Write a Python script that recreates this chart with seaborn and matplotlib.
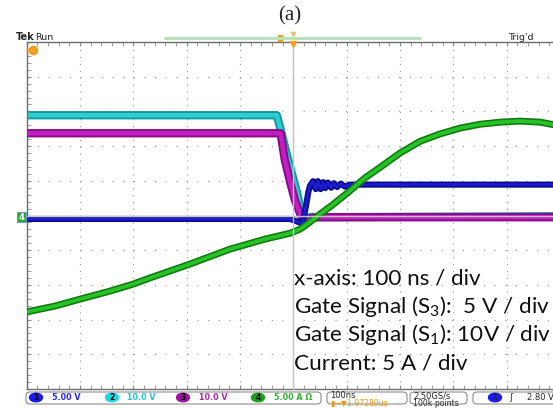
import numpy as np
import pandas as pd
import matplotlib
matplotlib.use("Agg")
import matplotlib.pyplot as plt
from matplotlib.patches import FancyBboxPatch, Ellipse, Rectangle
from matplotlib.ticker import MultipleLocator
import seaborn as sns

# time in ns (0 = trigger at screen centre), level in screen divisions
ch2_t = [-500, -31, -21, -12, -2, 7, 14, 20, 28, 500]
ch2_y = [2.89, 2.89, 2.31, 1.74, 1.17, 0.65, 0.16, -0.10, -0.05, -0.02]

ch3_t = [-500, -24, -16, -6, 3, 13, 20, 28, 41, 500]
ch3_y = [2.37, 2.37, 1.60, 0.96, 0.44, 0.04, -0.19, -0.10, -0.05, -0.05]

ch1_t = [-500, -6, 5, 16, 18, 24, 28, 31, 37, 42, 46, 51, 56, 60, 65, 71, 76,
         82, 89, 97, 106, 500]
ch1_y = [-0.10, -0.10, -0.16, -0.23, -0.16, 0.30, 0.67, 0.85, 0.99, 0.76, 0.99,
         0.76, 0.96, 0.79, 0.95, 0.80, 0.93, 0.82, 0.92, 0.83, 0.89, 0.89]

ch4_t = [-500, -447, -400, -344, -301, -269, -194, -119, -53, -6, 13, 31, 50,
         73, 103, 134, 163, 200, 238, 275, 313, 350, 388, 425, 463, 500]
ch4_y = [-2.78, -2.61, -2.41, -2.18, -1.98, -1.80, -1.40, -0.97, -0.68, -0.51,
         -0.39, -0.19, 0.04, 0.30, 0.67, 1.08, 1.39, 1.80, 2.14, 2.35, 2.52,
         2.63, 2.69, 2.72, 2.69, 2.58]

ch_labels = ["1", "2", "3", "4"]
ch_scales = ["5.00 V", "10.0 V", "10.0 V", "5.00 A \u03a9"]
notes = ["x-axis: 100 ns / div",
         "Gate Signal (S$_3$):  5 V / div",
         "Gate Signal (S$_1$): 10V / div",
         "Current: 5 A / div"]

sns.set_style("white")
plt.rcParams["font.family"] = ["DejaVu Sans"]
plt.rcParams["mathtext.fontset"] = "custom"
plt.rcParams["mathtext.rm"] = "Lato"
plt.rcParams["mathtext.it"] = "Lato:italic"
plt.rcParams["mathtext.bf"] = "Lato:bold"

W, H = 553, 408


def fx(x):
    return x / W


def fy(y):
    return 1 - y / H


fig = plt.figure(figsize=(5.53, 4.08), dpi=100)
pos = [fx(26.7), fy(389), (560 - 26.7) / W, (389 - 42) / H]
ax = fig.add_axes(pos)
ax.set_xlim(-500, 500)
ax.set_ylim(-5, 5)

# graticule
ax.xaxis.set_major_locator(MultipleLocator(100))
ax.xaxis.set_minor_locator(MultipleLocator(20))
ax.yaxis.set_major_locator(MultipleLocator(1))
ax.yaxis.set_minor_locator(MultipleLocator(0.2))
ax.xaxis.grid(True, which="major", color="#9c9c9c", linewidth=0.86,
              linestyle=(0, (1, 4.78)))
ax.yaxis.grid(True, which="major", color="#9c9c9c", linewidth=0.86,
              linestyle=(0, (1, 7.89)))
ax.tick_params(which="both", direction="in", length=3, color="#8a8a8a",
               top=True, bottom=True, left=True, right=False,
               labelbottom=False, labelleft=False)
for s in ["top", "left", "bottom"]:
    ax.spines[s].set_color("#6e6e6e")
    ax.spines[s].set_linewidth(1.0)
ax.spines["right"].set_visible(False)

# centre crosshair with ticks
ax2 = fig.add_axes(pos, sharex=ax, sharey=ax)
ax2.patch.set_visible(False)
ax2.spines["left"].set_position(("data", 0))
ax2.spines["bottom"].set_position(("data", 0))
ax2.spines["top"].set_visible(False)
ax2.spines["right"].set_visible(False)
for s in ["left", "bottom"]:
    ax2.spines[s].set_color("#c4c4c4")
    ax2.spines[s].set_linewidth(1.0)
ax2.tick_params(which="both", direction="inout", length=4, color="#b0b0b0",
                labelbottom=False, labelleft=False)

# traces
traces = [
    (ch2_t, ch2_y, "#139a9e", "#2ccfd4", 6.0, 3.2, 2),
    (ch3_t, ch3_y, "#8a0a8a", "#c020c0", 6.0, 3.2, 3),
    (ch1_t, ch1_y, "#0a0a8c", "#1c1cd0", 4.4, 2.0, 4),
    (ch4_t, ch4_y, "#0f7a0f", "#26c226", 5.0, 2.7, 5),
]
for t, y, dark, light, w1, w2, z in traces:
    d = pd.DataFrame({"t": t, "y": y})
    sns.lineplot(data=d, x="t", y="y", ax=ax, color=dark, linewidth=w1,
                 estimator=None, sort=False, zorder=z,
                 solid_joinstyle="round")
    sns.lineplot(data=d, x="t", y="y", ax=ax, color=light, linewidth=w2,
                 estimator=None, sort=False, zorder=z + 0.5,
                 solid_joinstyle="round")
ax.set_xlabel("")
ax.set_ylabel("")

# annotation block
base = [-1.995, -2.81, -3.63, -4.45]
for line, yb in zip(notes, base):
    ax.text(1, yb, line, fontsize=16.2, family="Lato", color="#111111",
            va="baseline", ha="left", zorder=10, clip_on=False)

# title and header
fig.text(fx(290), fy(16), "(a)", family="Liberation Serif", fontsize=15,
         ha="center", va="center")
fig.text(fx(16), fy(37.5), "Tek", fontsize=7, weight="bold", va="center")
fig.text(fx(35), fy(37.5), "Run", fontsize=6.8, color="#222222", va="center")
fig.text(fx(508), fy(37.5), "Trig'd", fontsize=6.8, color="#222222",
         va="center")
fig.add_artist(plt.Line2D([fx(165), fx(420)], [fy(38), fy(38)],
                          color="#b9e2b9", linewidth=2.2))
fig.add_artist(Rectangle((fx(278), fy(41)), 4 / W, 6 / H, color="#f0a020"))
fig.add_artist(plt.Line2D([fx(293.3)], [fy(44)], marker="v", markersize=5,
                          color="#f0a020"))
fig.add_artist(plt.Line2D([fx(293.3)], [fy(34)], marker="v", markersize=3,
                          color="#f0c070"))
fig.add_artist(plt.Line2D([fx(30)], [fy(50)], marker="<", markersize=6,
                          color="#f0a020"))
fig.add_artist(plt.Line2D([fx(33)], [fy(50)], marker="o", markersize=6,
                          color="#f0a020"))
fig.add_artist(Rectangle((fx(17), fy(222)), 9 / W, 10 / H, facecolor="#22b022",
                         edgecolor="#7090e0", linewidth=0.8))
fig.text(fx(21.5), fy(217), "4", fontsize=6, color="white", ha="center",
         va="center", weight="bold")

# status bar
boxes = [(26, 321), (327, 407), (410, 467), (473, 560)]
for x0, x1 in boxes:
    fig.add_artist(FancyBboxPatch((fx(x0), fy(404)), (x1 - x0) / W, 12 / H,
                                  boxstyle="round,pad=0,rounding_size=0.008",
                                  facecolor="white", edgecolor="#8c8c8c",
                                  linewidth=0.8))
ch_fill = ["#1a1aee", "#1ed6e0", "#a012a0", "#1aa01a"]
ch_text = ["#2a2ae0", "#20c6d0", "#a828a8", "#30b030"]
ell_x = [36, 112, 183, 258]
txt_x = [52, 127, 199, 274]
for lab, sc, fc, tc, ex, tx in zip(ch_labels, ch_scales, ch_fill, ch_text,
                                   ell_x, txt_x):
    fig.add_artist(Ellipse((fx(ex), fy(397.5)), 13 / W, 8.5 / H, color=fc))
    fig.text(fx(ex), fy(397.5), lab, fontsize=5.5, ha="center", va="center",
             color="black", weight="bold")
    fig.text(fx(tx), fy(397.5), sc, fontsize=5.8, color=tc, va="center",
             weight="bold")
fig.text(fx(330), fy(396), "100ns", fontsize=6, va="center")
fig.text(fx(330), fy(403.5), "\u25ae\u2192\u25bc1.97280us", fontsize=5.6,
         va="center", color="#f09a10")
fig.text(fx(413), fy(396), "2.50GS/s", fontsize=6, va="center")
fig.text(fx(413), fy(403.5), "100k points", fontsize=5.6, va="center")
fig.add_artist(Ellipse((fx(495), fy(397.5)), 13 / W, 8.5 / H, color="#1a1aee"))
fig.text(fx(495), fy(397.5), "1", fontsize=5.5, ha="center", va="center",
         weight="bold")
fig.text(fx(509), fy(397.5), "\u0283", fontsize=6.5, va="center")
fig.text(fx(527), fy(397.5), "2.80 V", fontsize=6, va="center")

fig.savefig("out.png", dpi=100)
